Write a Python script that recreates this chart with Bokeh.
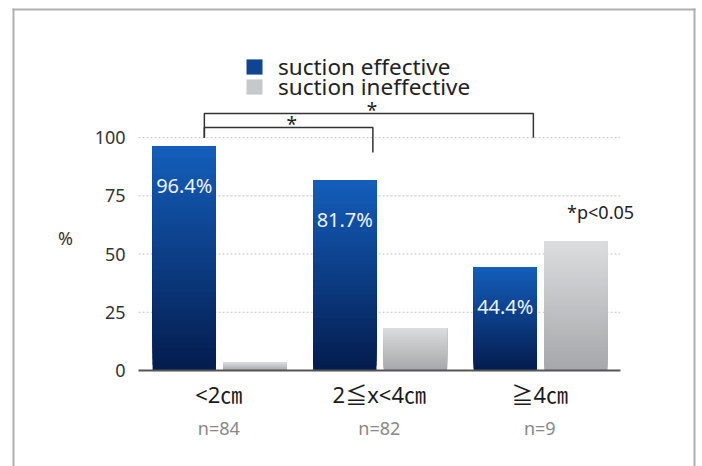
from bokeh.plotting import figure
from bokeh.models import (ColumnDataSource, Range1d, FixedTicker, LinearAxis,
                          Legend, LegendItem, Label, LabelSet)
from bokeh.core.properties import value
from bokeh.embed import file_html
from bokeh.resources import INLINE

# ---------------- data ----------------
categories = ["<2㎝", "2≦x<4㎝", "≧4㎝"]
sample_sizes = ["n=84", "n=82", "n=9"]
effective = [96.4, 81.7, 44.4]
ineffective = [3.6, 18.3, 55.6]
effective_labels = ["96.4%", "81.7%", "44.4%"]
y_ticks = [0, 25, 50, 75, 100]
series_names = ["suction effective", "suction ineffective"]
# significance brackets between groups
bracket_from = [0, 0]
bracket_to = [1, 2]
bracket_level = [104.4, 110.4]
bracket_right_end = [93.6, 100.0]
bracket_marks = ["*", "*"]
significance_note = "*p<0.05"

# ---------------- style ----------------
FONT = "Noto Sans, Noto Sans CJK JP"
BLUE_OFF, GREY_OFF, BAR_W = -0.215, 0.225, 0.395
BLUE_BOT, BLUE_TOP = (4, 28, 78), (20, 94, 188)
GREY_BOT, GREY_TOP = (166, 167, 170), (220, 221, 223)
N_STEPS = 40
X_LO, X_HI = -0.5, len(categories) - 0.5
W, H = 700, 466
XR = (-1.3601, 3.0013)
YR = (-41.23, 158.89)


def mix(c0, c1, t):
    return "#%02x%02x%02x" % tuple(int(round(a + (b - a) * t)) for a, b in zip(c0, c1))


def gradient_source(values, offset, c_bot, c_top):
    xs, bots, tops, cols = [], [], [], []
    for i, v in enumerate(values):
        for k in range(N_STEPS):
            xs.append(i + offset)
            bots.append(v * k / N_STEPS)
            tops.append(v)
            cols.append(mix(c_bot, c_top, (k + 0.5) / N_STEPS))
    return ColumnDataSource(dict(x=xs, bottom=bots, top=tops, color=cols))


def px_x(px):  # canvas pixel -> data x (for the decorative panel border)
    return XR[0] + px / W * (XR[1] - XR[0])


def px_y(py):  # canvas pixel (from top) -> data y
    return YR[1] - py / H * (YR[1] - YR[0])


# plot frame spans the whole canvas; axes sit at fixed locations inside it
p = figure(width=W, height=H, x_range=Range1d(*XR), y_range=Range1d(*YR),
           output_backend="svg", toolbar_location=None,
           min_border_left=0, min_border_right=0, min_border_top=0, min_border_bottom=0)
p.outline_line_color = None
p.background_fill_color = "white"
p.border_fill_color = "white"
p.xgrid.visible = False
p.ygrid.visible = False

# open-bottomed panel border (left, top, right sides), drawn on top of everything
p.segment(x0=[px_x(13), px_x(12), px_x(694)], x1=[px_x(13), px_x(695), px_x(694)],
          y0=[px_y(480), px_y(9), px_y(8)], y1=[px_y(8), px_y(9), px_y(480)],
          line_color="#b0b0b0", line_width=2, level="overlay")

# dotted horizontal grid lines over the plotting area only
grid_y = [t for t in y_ticks if t > 0]
p.segment(x0=[X_LO] * len(grid_y), x1=[X_HI] * len(grid_y), y0=grid_y, y1=grid_y,
          line_color="#c4c4c4", line_dash="2 2", line_width=1)

r_blue = p.vbar(x="x", bottom="bottom", top="top", width=BAR_W, fill_color="color",
                line_color=None, source=gradient_source(effective, BLUE_OFF, BLUE_BOT, BLUE_TOP))
r_grey = p.vbar(x="x", bottom="bottom", top="top", width=BAR_W, fill_color="color",
                line_color=None, source=gradient_source(ineffective, GREY_OFF, GREY_BOT, GREY_TOP))

# value labels inside blue bars
lab_src = ColumnDataSource(dict(x=[i + BLUE_OFF for i in range(len(effective))],
                                y=[v - 16.8 for v in effective], text=effective_labels))
p.add_layout(LabelSet(x="x", y="y", text="text", source=lab_src, text_align="center",
                      text_baseline="middle", text_color="#eef3ff", text_font_size="20px",
                      text_font=value(FONT)))

# significance brackets
bx, by = [], []
for a, b, lvl, end in zip(bracket_from, bracket_to, bracket_level, bracket_right_end):
    left, right = a - 0.09, b - 0.04
    bx.append([left, left, right, right])
    by.append([100, lvl, lvl, end])
p.multi_line(xs=bx, ys=by, line_color="#333333", line_width=1.5)
star_src = ColumnDataSource(dict(
    x=[((a - 0.09) + (b - 0.04)) / 2 + 0.02 for a, b in zip(bracket_from, bracket_to)],
    y=bracket_level, text=bracket_marks))
p.add_layout(LabelSet(x="x", y="y", text="text", source=star_src, text_align="center",
                      text_baseline="middle", text_color="#222222", text_font_size="19px",
                      text_font=value(FONT), y_offset=3))
p.add_layout(Label(x=2.17, y=68, text=significance_note, text_align="left",
                   text_baseline="middle", text_color="#222222", text_font_size="18px",
                   text_font=FONT))
p.add_layout(Label(x=X_LO, y=56.7, x_offset=-73, text="%", text_align="center",
                   text_baseline="middle", text_color="#333333", text_font_size="18px",
                   text_font=FONT))

# y axis
ya = p.yaxis[0]
ya.fixed_location = X_LO
ya.ticker = FixedTicker(ticks=y_ticks)
ya.axis_line_color = None
ya.major_tick_line_color = None
ya.minor_tick_line_color = None
ya.major_tick_out = 0
ya.major_label_standoff = 13
ya.major_label_text_font = FONT
ya.major_label_text_font_size = "18px"
ya.major_label_text_color = "#333333"

# x axis: category names
xa = p.xaxis[0]
xa.fixed_location = 0
xa.bounds = (X_LO, X_HI)
xa.ticker = FixedTicker(ticks=list(range(len(categories))))
xa.major_label_overrides = {i: c for i, c in enumerate(categories)}
xa.axis_line_color = "#555555"
xa.axis_line_width = 2
xa.major_tick_line_color = None
xa.minor_tick_line_color = None
xa.major_tick_out = 0
xa.major_label_standoff = 9
xa.major_label_text_font = FONT
xa.major_label_text_font_size = "22px"
xa.major_label_text_color = "#1a1a1a"

# second x axis: sample sizes
xa2 = LinearAxis(ticker=FixedTicker(ticks=list(range(len(sample_sizes)))),
                 major_label_overrides={i: s for i, s in enumerate(sample_sizes)})
xa2.fixed_location = 0
xa2.axis_line_color = None
xa2.major_tick_line_color = None
xa2.minor_tick_line_color = None
xa2.major_tick_out = 0
xa2.major_label_standoff = 46
xa2.major_label_text_font = FONT
xa2.major_label_text_font_size = "18px"
xa2.major_label_text_color = "#888888"
p.add_layout(xa2, "below")

# legend: one entry per box so the rows can sit close together
legend_style = dict(orientation="vertical", padding=0, margin=0, spacing=0,
                    glyph_width=20, glyph_height=19, label_height=20, label_standoff=14,
                    label_text_font=FONT, label_text_font_size="22.5px", label_text_color="#222222",
                    border_line_color=None, background_fill_alpha=0)
idx = int(N_STEPS * 0.6)
p.add_layout(Legend(items=[LegendItem(label=series_names[0], renderers=[r_blue], index=idx)],
                    location=(244, 384), **legend_style))
p.add_layout(Legend(items=[LegendItem(label=series_names[1], renderers=[r_grey], index=idx)],
                    location=(244, 364), **legend_style))

open("out.html", "w").write(file_html(p, INLINE))
